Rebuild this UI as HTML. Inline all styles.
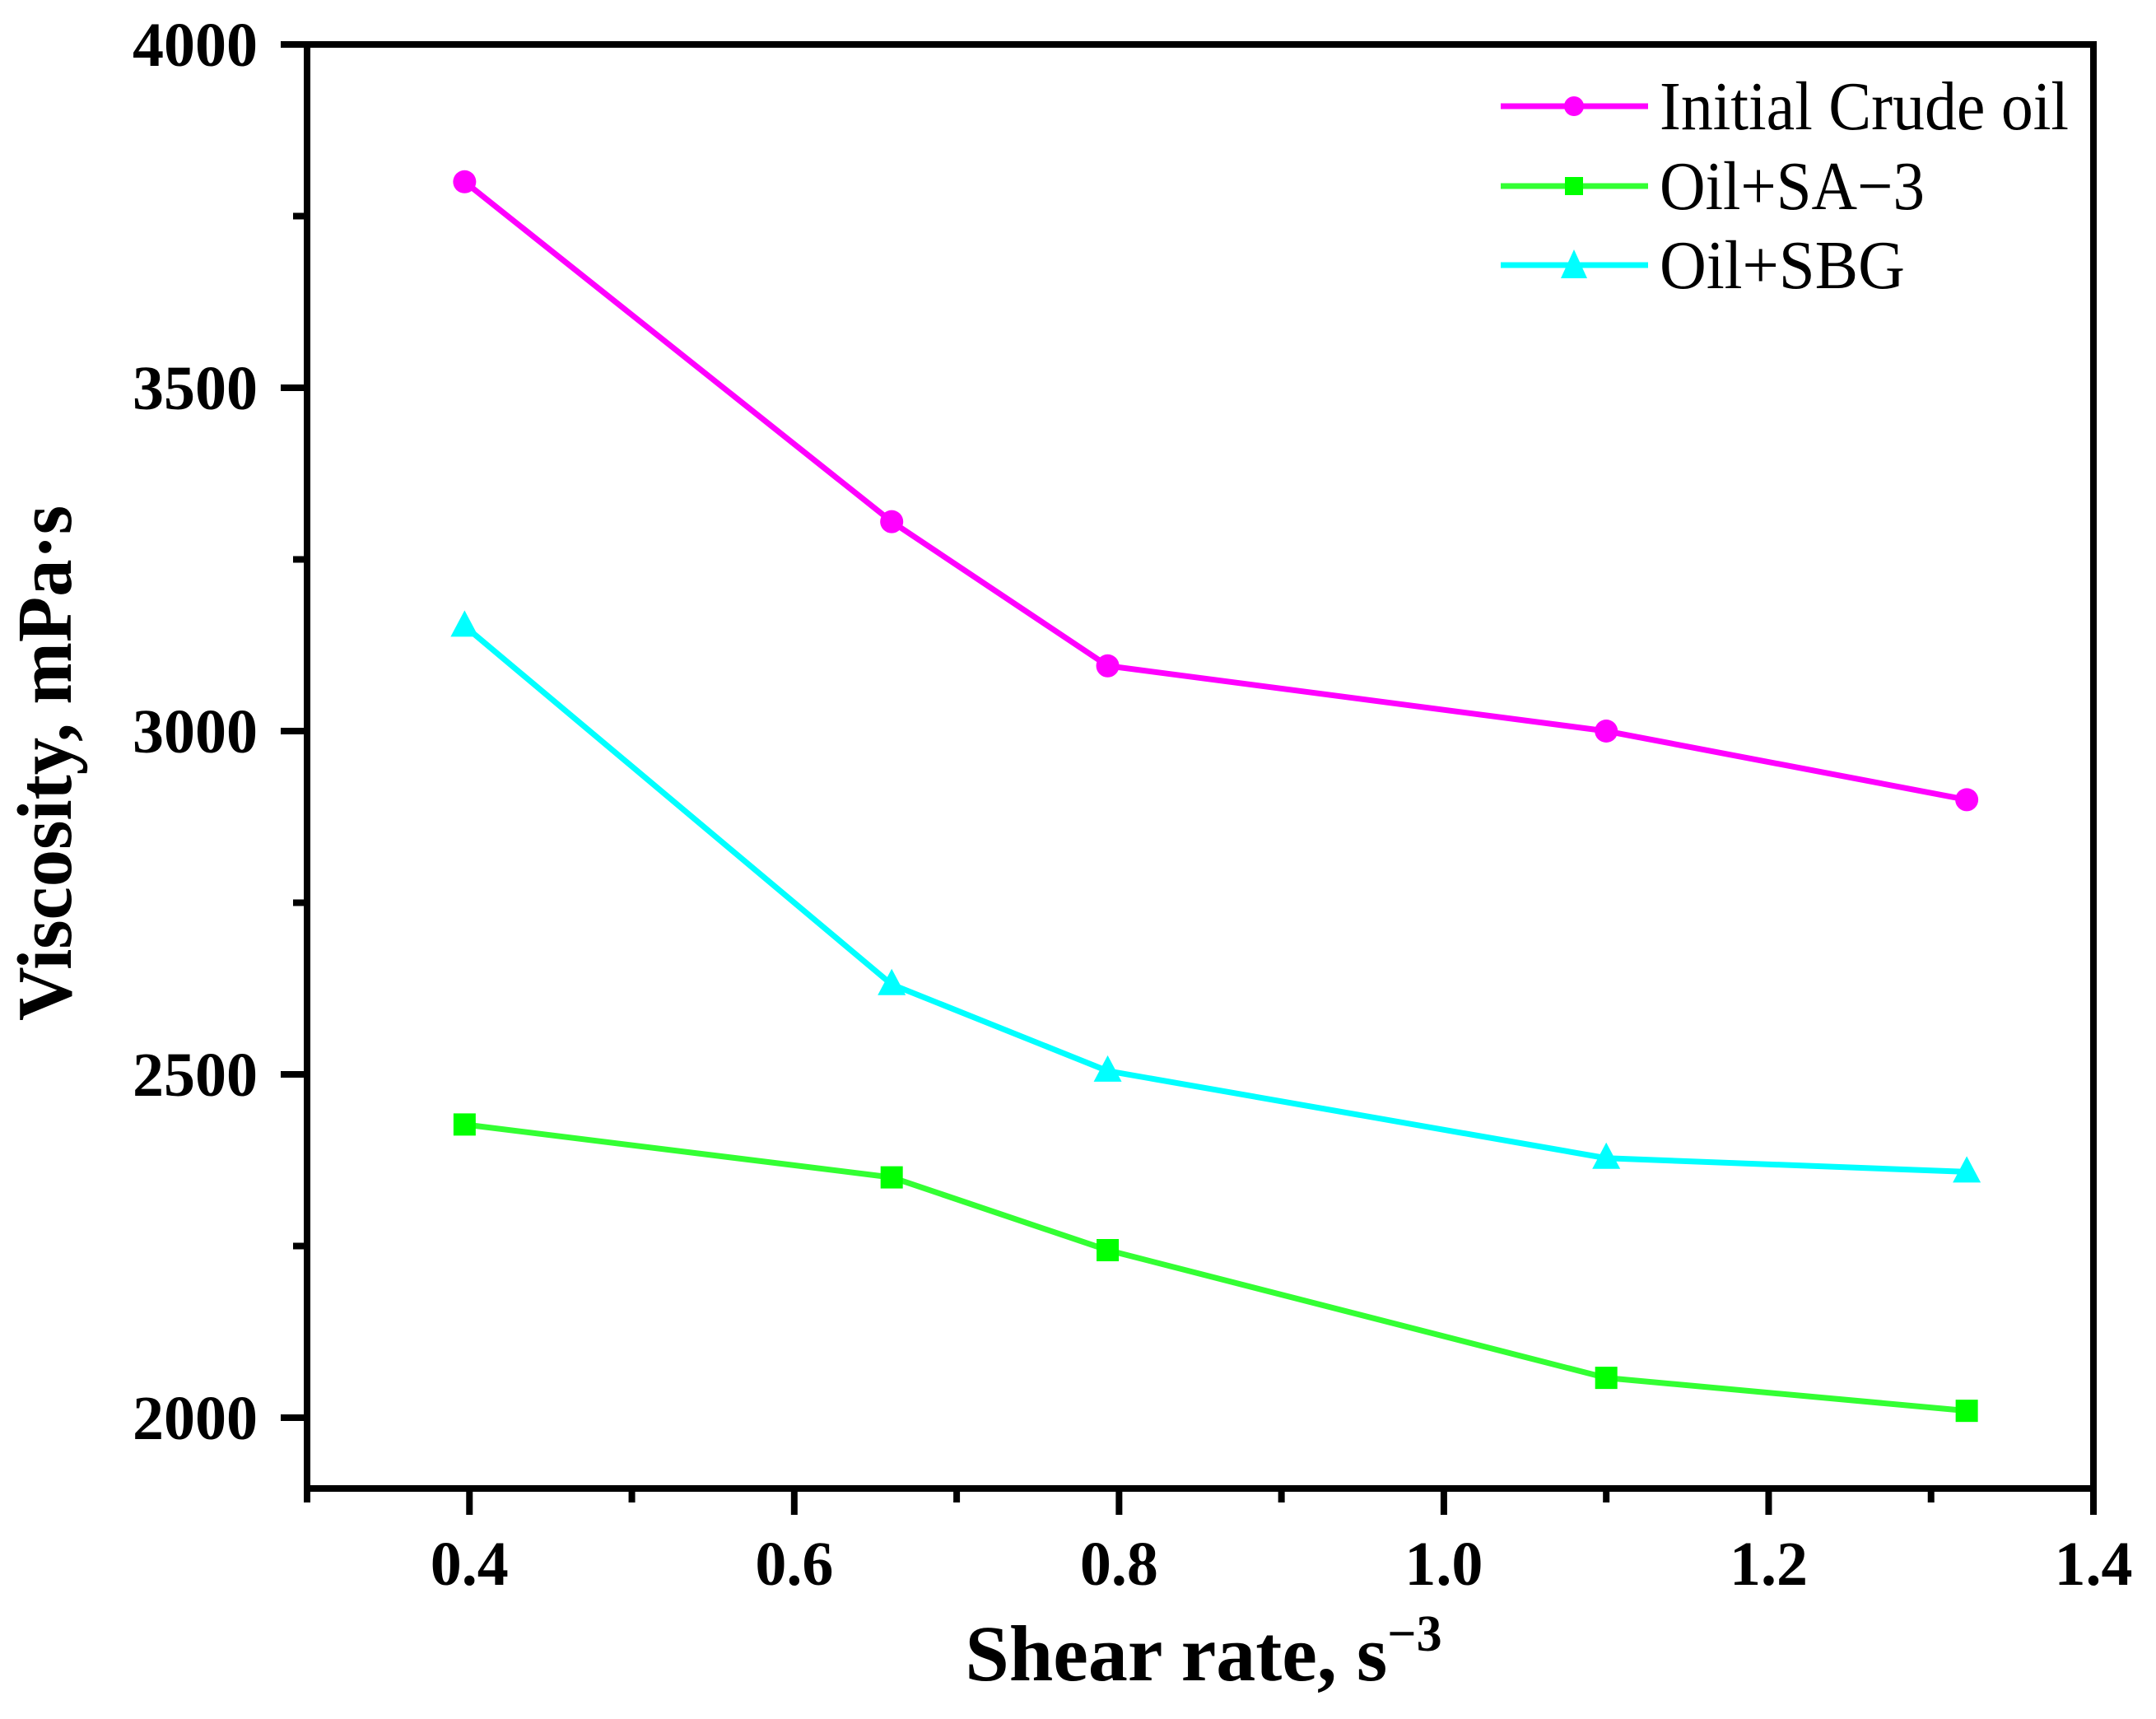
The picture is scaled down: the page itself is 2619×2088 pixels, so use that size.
<!DOCTYPE html>
<html><head><meta charset="utf-8">
<style>
html,body{margin:0;padding:0;background:#fff;}
svg{display:block;}
text{font-family:"Liberation Serif",serif;fill:#000;}
</style></head>
<body>
<svg id="chart" width="2619" height="2088" viewBox="0 0 2619 2088" xmlns="http://www.w3.org/2000/svg">
  <rect x="0" y="0" width="2619" height="2088" fill="#fff"/>
  <g id="grid-layer"></g>
  <g id="series-layer"></g>
  <text x="0" y="0" transform="translate(86,927) rotate(-90)" text-anchor="middle" font-size="94" font-weight="bold" textLength="626" lengthAdjust="spacingAndGlyphs">Viscosity, mPa·s</text>
  <text x="1462" y="2041" text-anchor="middle" font-size="96" font-weight="bold">Shear rate, s<tspan dy="-36" font-size="62">−3</tspan></text>
  <g>
    <g>
      <line x1="1823" y1="129" x2="2002" y2="129" stroke="#ff00ff" stroke-width="7"/>
      <circle cx="1912" cy="129" r="12" fill="#ff00ff"/>
      <text x="2016" y="157" font-size="84" textLength="497" lengthAdjust="spacingAndGlyphs">Initial Crude oil</text>
    </g>
    <g>
      <line x1="1823" y1="226" x2="2002" y2="226" stroke="#33ff33" stroke-width="7"/>
      <rect x="1901" y="215" width="22" height="22" fill="#00ff00"/>
      <text x="2016" y="254" font-size="84" textLength="322" lengthAdjust="spacingAndGlyphs">Oil+SA−3</text>
    </g>
    <g>
      <line x1="1823" y1="322" x2="2002" y2="322" stroke="#00ffff" stroke-width="7"/>
      <polygon points="1912,303 1928,338 1896,338" fill="#00ffff"/>
      <text x="2016" y="350" font-size="84" textLength="298" lengthAdjust="spacingAndGlyphs">Oil+SBG</text>
    </g>
  </g>
</svg>
<script>
const shearRates = [0.397, 0.66, 0.793, 1.1, 1.322];
const crudeOil = [3800, 3305, 3095, 3000, 2900];
const oilSA3 = [2427, 2350, 2244, 2058, 2010];
const oilSBG = [3153, 2631, 2505, 2378, 2358];
const xTicks = [0.4, 0.6, 0.8, 1.0, 1.2, 1.4];
const xTickLabels = ["0.4", "0.6", "0.8", "1.0", "1.2", "1.4"];
const xMinorTicks = [0.3, 0.5, 0.7, 0.9, 1.1, 1.3];
const yTicks = [2000, 2500, 3000, 3500, 4000];
const yTickLabels = ["2000", "2500", "3000", "3500", "4000"];
const yMinorTicks = [2250, 2750, 3250, 3750];

const L = 373, R = 2543, T = 54, B = 1808;
const X0 = 0.3, X1 = 1.4;
function xs(v){ return L + (v - X0) / (X1 - X0) * (R - L); }
function ys(v){ return 1722 - (v - 2000) / 500 * 417; }

const NS = "http://www.w3.org/2000/svg";
function mk(tag, attrs, parent){
  const e = document.createElementNS(NS, tag);
  for (const k in attrs) e.setAttribute(k, attrs[k]);
  parent.appendChild(e);
  return e;
}
const axes = document.getElementById('grid-layer');
const frame = mk('rect', {x:L, y:T, width:R-L, height:B-T, fill:'none', stroke:'#000', 'stroke-width':8}, axes);



xTicks.forEach((v, i) => {
  const t = mk('line', {x1:xs(v), y1:B, x2:xs(v), y2:B+32, stroke:'#000', 'stroke-width':8}, axes);
  
  
  const lb = mk('text', {x:xs(v), y:1925, 'text-anchor':'middle', 'font-size':76, 'font-weight':'bold'}, axes);
  lb.textContent = xTickLabels[i];
  
  
});
xMinorTicks.forEach(v => {
  const t = mk('line', {x1:xs(v), y1:B, x2:xs(v), y2:B+17, stroke:'#000', 'stroke-width':8}, axes);
  
  
});
yTicks.forEach((v, i) => {
  const t = mk('line', {x1:L-32, y1:ys(v), x2:L, y2:ys(v), stroke:'#000', 'stroke-width':8}, axes);
  
  
  const lb = mk('text', {x:313, y:ys(v)+26, 'text-anchor':'end', 'font-size':76, 'font-weight':'bold'}, axes);
  lb.textContent = yTickLabels[i];
  
  
});
yMinorTicks.forEach(v => {
  const t = mk('line', {x1:L-17, y1:ys(v), x2:L, y2:ys(v), stroke:'#000', 'stroke-width':8}, axes);
  
  
});

const sl = document.getElementById('series-layer');
function drawSeries(vals, lineColor, markColor, shape, name){
  const g = mk('g', {}, sl);
  
  
  const pts = vals.map((v, i) => xs(shearRates[i]) + ',' + ys(v)).join(' ');
  const pl = mk('polyline', {points:pts, fill:'none', stroke:lineColor, 'stroke-width':7, 'stroke-linejoin':'round'}, g);
  
  
  vals.forEach((v, i) => {
    const cx = xs(shearRates[i]), cy = ys(v);
    let m;
    if (shape === 'circle') m = mk('circle', {cx:cx, cy:cy, r:14, fill:markColor}, g);
    else if (shape === 'square') m = mk('rect', {x:cx-13.5, y:cy-13.5, width:27, height:27, fill:markColor}, g);
    else m = mk('polygon', {points:(cx)+','+(cy-19)+' '+(cx+17)+','+(cy+13)+' '+(cx-17)+','+(cy+13), fill:markColor}, g);
    
    
  });
}
drawSeries(crudeOil, '#ff00ff', '#ff00ff', 'circle', 'series-initial-crude-oil');
drawSeries(oilSBG, '#00ffff', '#00ffff', 'triangle', 'series-oil-sbg');
drawSeries(oilSA3, '#33ff33', '#00ff00', 'square', 'series-oil-sa3');
</script>
</body></html>
